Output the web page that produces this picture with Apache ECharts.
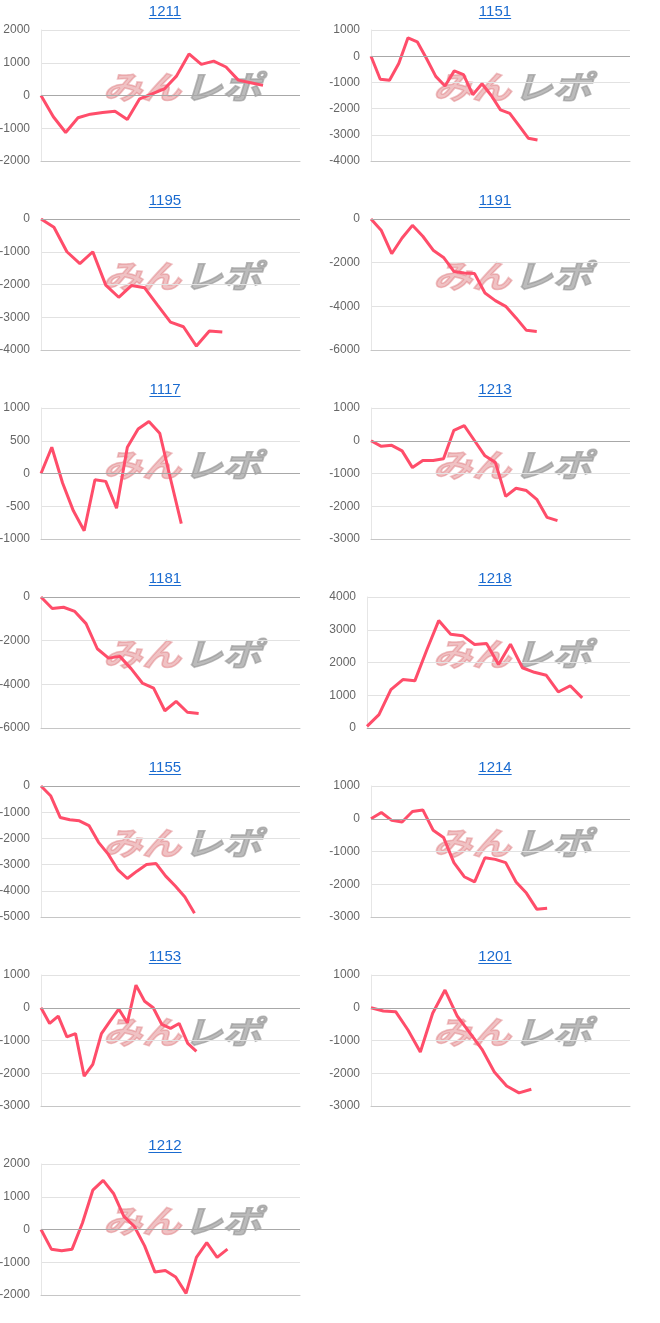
<!DOCTYPE html>
<html>
<head>
<meta charset="utf-8">
<script src="https://cdn.jsdelivr.net/npm/echarts@6/dist/echarts.min.js"></script>
<style>
html,body{margin:0;padding:0;background:#fff;}
#c{width:660px;height:1323px;}
</style>
</head>
<body>
<div id="c"></div>
<script>
// ---- data ----
const titles = ['1211','1151','1195','1191','1117','1213','1181','1218','1155','1214','1153','1201','1212'];
const v1211 = [0,-650,-1130,-680,-570,-520,-480,-730,-100,50,200,600,1270,950,1050,870,470,390,310];
const v1151 = [0,-880,-920,-280,700,550,-90,-770,-1140,-560,-700,-1470,-1050,-1500,-2050,-2180,-2650,-3130,-3200];
const v1195 = [0,-250,-1000,-1360,-1000,-2020,-2390,-2030,-2100,-2630,-3150,-3290,-3880,-3420,-3450];
const v1191 = [0,-530,-1590,-870,-290,-790,-1430,-1760,-2400,-2470,-2500,-3390,-3740,-4000,-4530,-5100,-5150];
const v1117 = [0,400,-145,-570,-875,-95,-120,-530,400,680,795,615,-80,-765];
const v1213 = [0,-170,-140,-310,-820,-600,-600,-550,320,460,0,-460,-660,-1700,-1450,-1520,-1790,-2340,-2440];
const v1181 = [0,-530,-470,-660,-1220,-2370,-2800,-2720,-3280,-3940,-4170,-5210,-4780,-5280,-5340];
const v1218 = [50,410,1170,1480,1440,2380,3280,2860,2820,2550,2580,1940,2560,1840,1700,1610,1100,1290,920];
const v1155 = [0,-370,-1200,-1290,-1330,-1510,-2150,-2600,-3190,-3530,-3250,-3000,-2960,-3440,-3820,-4240,-4860];
const v1214 = [0,190,-50,-100,220,270,-350,-570,-1340,-1770,-1930,-1190,-1240,-1340,-1930,-2270,-2760,-2730];
const v1153 = [0,-480,-255,-890,-790,-2090,-1730,-790,-410,-40,-460,690,200,0,-510,-630,-480,-1090,-1330];
const v1201 = [0,-100,-120,-680,-1350,-170,540,-260,-760,-1270,-1960,-2390,-2600,-2490];
const v1212 = [0,-600,-650,-600,200,1200,1500,1100,400,100,-500,-1300,-1250,-1450,-1950,-850,-400,-850,-600];
const seriesValues = [v1211,v1151,v1195,v1191,v1117,v1213,v1181,v1218,v1155,v1214,v1153,v1201,v1212];
// number of x steps on each chart's horizontal axis
const xSteps = [21,28,20,25,24,25,23,22,27,25,30,21,25];
// y axis ranges
const yMins = [-2000,-4000,-4000,-6000,-1000,-3000,-6000,0,-5000,-3000,-3000,-3000,-2000];
const yMaxs = [2000,1000,0,0,1000,1000,0,4000,0,1000,1000,1000,2000];
const yIntervals = [1000,1000,1000,2000,500,1000,2000,1000,1000,1000,1000,1000,1000];

// ---- layout ----
const chart = echarts.init(document.getElementById('c'));
const FONT = '"Liberation Sans", Arial, sans-serif';
const grids = [], xAxes = [], yAxes = [], series = [], graphics = [];
const mc = document.createElement('canvas').getContext('2d');
mc.font = '15px "Liberation Sans", Arial';

titles.forEach((t, i) => {
  const col = i % 2, row = Math.floor(i / 2);
  const colX = col * 330;
  const top = 30 + row * 189;
  let left = colX + 41, width = 259;
  if (t === '1218') { left = colX + 37; width = 263; }
  grids.push({left: left, top: top, width: width, height: 131, containLabel: false, outerBoundsMode: 'none'});
  const cats = [];
  for (let k = 0; k <= xSteps[i]; k++) cats.push(String(k));
  xAxes.push({
    type: 'category', gridIndex: i, data: cats, boundaryGap: false,
    axisLabel: {show: false}, axisTick: {show: false}, splitLine: {show: false},
    axisLine: {show: true, onZero: false, lineStyle: {color: '#c6c6c6', width: 1}}
  });
  yAxes.push({
    type: 'value', gridIndex: i, min: yMins[i], max: yMaxs[i], interval: yIntervals[i],
    axisLabel: {color: '#666', fontSize: 12, margin: 11, fontFamily: FONT, formatter: v => String(v)},
    axisTick: {show: false},
    axisLine: {show: true, lineStyle: {color: '#e6e6e6', width: 1}},
    splitLine: {show: true, lineStyle: {color: '#e2e2e2', width: 1}}
  });
  series.push({
    type: 'line', xAxisIndex: i, yAxisIndex: i, data: seriesValues[i],
    showSymbol: false, symbol: 'none', smooth: false, z: 3,
    lineStyle: {color: '#ff4d6a', width: 3}, itemStyle: {color: '#ff4d6a'},
    markLine: {
      silent: true, symbol: ['none','none'], label: {show: false}, animation: false,
      lineStyle: {color: '#a8a8a8', width: 1, type: 'solid'},
      data: [{yAxis: 0}]
    }
  });
  // title (link style)
  const cx = colX + 165;
  const w = mc.measureText(t).width;
  graphics.push({
    type: 'text', x: cx, y: top - 18, z: 5,
    style: {text: t, fill: '#1a6bd0', font: '15px ' + FONT, textAlign: 'center', textVerticalAlign: 'middle'}
  });
  graphics.push({
    type: 'rect', shape: {x: cx - w / 2, y: top - 12, width: w, height: 1}, z: 5,
    style: {fill: '#1a6bd0'}
  });
  // watermark
  graphics.push({
    type: 'group', x: colX + 103, y: top + 57, scaleX: 1.22, z: 1,
    children: [
      {type: 'text', x: 0, y: 0, style: {text: 'みん', fill: 'rgba(222,120,125,0.45)', stroke: 'rgba(222,120,125,0.45)', lineWidth: 1.5, font: 'italic bold 32px "Noto Sans CJK JP"', textAlign: 'left', textVerticalAlign: 'middle'}},
      {type: 'text', x: 66, y: 0, style: {text: 'レポ', fill: 'rgba(150,150,150,0.65)', stroke: 'rgba(150,150,150,0.65)', lineWidth: 1.5, font: 'italic bold 32px "Noto Sans CJK JP"', textAlign: 'left', textVerticalAlign: 'middle'}}
    ]
  });
});

chart.setOption({
  animation: false,
  backgroundColor: '#fff',
  grid: grids, xAxis: xAxes, yAxis: yAxes, series: series,
  graphic: graphics
});
</script>
</body>
</html>
